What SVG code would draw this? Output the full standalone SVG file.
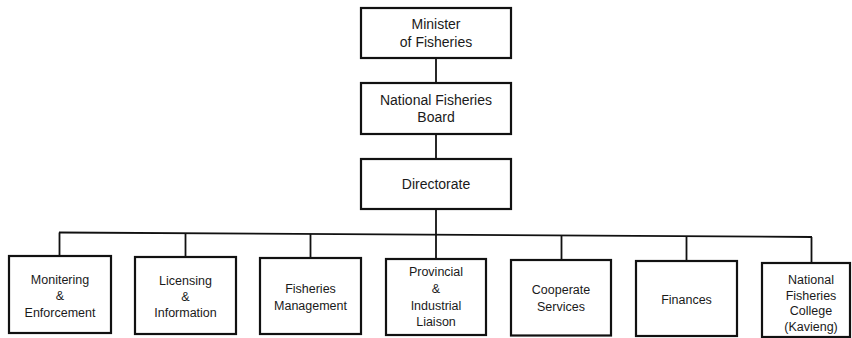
<svg xmlns="http://www.w3.org/2000/svg" width="852" height="338" viewBox="0 0 852 338">
<style>
.box{fill:#fff;stroke:#111;stroke-width:2.2}
.ln{fill:none;stroke:#111;stroke-width:1.8}
.t{font-family:"Liberation Sans",Arial,sans-serif;fill:#1a1a1a;text-anchor:middle}
.tt{font-size:14px}
.bt{font-size:12.5px}
</style>
<rect width="852" height="338" fill="#fff"/>
<g id="connectors">
<line class="ln" x1="436" y1="58" x2="436" y2="83"/>
<line class="ln" x1="436" y1="134" x2="436" y2="159"/>
<line class="ln" x1="436" y1="209" x2="436" y2="259"/>
<line class="ln" x1="59" y1="232.5" x2="812" y2="237"/>
<line class="ln" x1="59.5" y1="232.5" x2="59.5" y2="256"/>
<line class="ln" x1="185.5" y1="233.2" x2="185.5" y2="257"/>
<line class="ln" x1="310.5" y1="234" x2="310.5" y2="258"/>
<line class="ln" x1="561.5" y1="235.5" x2="561.5" y2="260"/>
<line class="ln" x1="686.5" y1="236.3" x2="686.5" y2="261"/>
<line class="ln" x1="811.5" y1="237" x2="811.5" y2="262"/>
</g>
<g id="minister">
<rect class="box" x="361" y="8" width="150" height="50"/>
<text class="t tt" x="436" y="29">Minister</text>
<text class="t tt" x="436" y="47">of Fisheries</text>
</g>
<g id="board">
<rect class="box" x="361" y="83" width="150" height="51"/>
<text class="t tt" x="436" y="105">National Fisheries</text>
<text class="t tt" x="436" y="122">Board</text>
</g>
<g id="directorate">
<rect class="box" x="361" y="159" width="150" height="50"/>
<text class="t tt" x="436" y="188.5">Directorate</text>
</g>
<g id="monitoring">
<rect class="box" x="9" y="256" width="102" height="77"/>
<text class="t bt" x="60" y="283.5">Monitering</text>
<text class="t bt" x="60" y="299.5">&amp;</text>
<text class="t bt" x="60" y="316.5">Enforcement</text>
</g>
<g id="licensing">
<rect class="box" x="135" y="257" width="101" height="77"/>
<text class="t bt" x="185.5" y="284.5">Licensing</text>
<text class="t bt" x="185.5" y="300.5">&amp;</text>
<text class="t bt" x="185.5" y="316.5">Information</text>
</g>
<g id="management">
<rect class="box" x="260" y="258" width="101" height="76"/>
<text class="t bt" x="310.5" y="292.5">Fisheries</text>
<text class="t bt" x="310.5" y="309.5">Management</text>
</g>
<g id="provincial">
<rect class="box" x="386" y="259" width="100" height="76"/>
<text class="t bt" x="436" y="276">Provincial</text>
<text class="t bt" x="436" y="292.5">&amp;</text>
<text class="t bt" x="436" y="309.5">Industrial</text>
<text class="t bt" x="436" y="326">Liaison</text>
</g>
<g id="cooperate">
<rect class="box" x="511" y="260" width="100" height="75.5"/>
<text class="t bt" x="561" y="294">Cooperate</text>
<text class="t bt" x="561" y="311">Services</text>
</g>
<g id="finances">
<rect class="box" x="636" y="261" width="101" height="75"/>
<text class="t bt" x="686.5" y="303.5">Finances</text>
</g>
<g id="college">
<rect class="box" x="762" y="263" width="88" height="74"/>
<text class="t bt" x="811" y="283.5">National</text>
<text class="t bt" x="811" y="299.5">Fisheries</text>
<text class="t bt" x="811" y="315">College</text>
<text class="t bt" x="811" y="331">(Kavieng)</text>
</g>
</svg>
